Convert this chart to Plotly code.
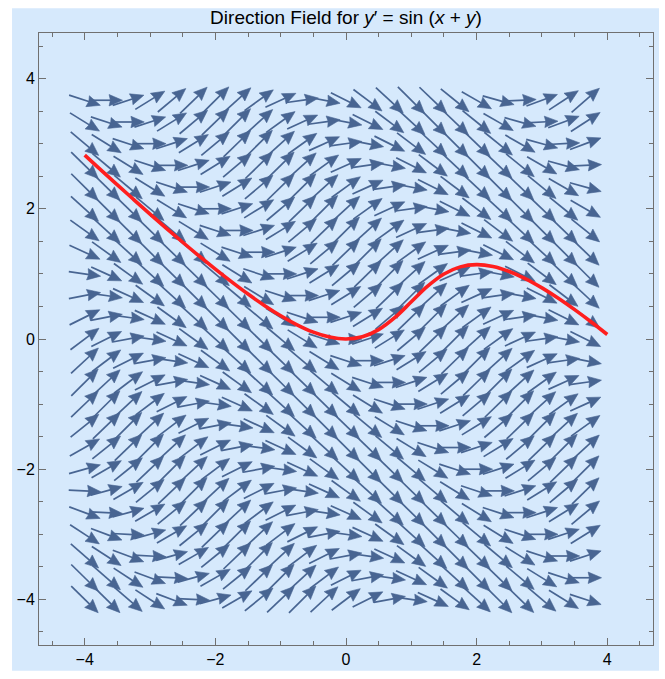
import math
import plotly.graph_objects as go

# ---- data ----
x_grid = [-4.0, -3.667, -3.333, -3.0, -2.667, -2.333, -2.0, -1.667, -1.333, -1.0, -0.667, -0.333,
          0.0, 0.333, 0.667, 1.0, 1.333, 1.667, 2.0, 2.333, 2.667, 3.0, 3.333, 3.667]
y_grid = [-4.0, -3.667, -3.333, -3.0, -2.667, -2.333, -2.0, -1.667, -1.333, -1.0, -0.667, -0.333,
          0.0, 0.333, 0.667, 1.0, 1.333, 1.667, 2.0, 2.333, 2.667, 3.0, 3.333, 3.667]
# slope of the field, indexed by the diagonal x+y = -8, -7.667, ..., 7.333
diag_slope = [-0.989, -0.983, -0.867, -0.657, -0.374, -0.050, 0.279, 0.578, 0.813, 0.959,
              0.999, 0.929, 0.757, 0.501, 0.190, -0.141, -0.457, -0.723, -0.909, -0.995,
              -0.972, -0.841, -0.619, -0.327, 0.0, 0.327, 0.619, 0.841, 0.972, 0.995,
              0.909, 0.723, 0.457, 0.141, -0.190, -0.501, -0.757, -0.929, -0.999, -0.959,
              -0.813, -0.578, -0.279, 0.050, 0.374, 0.657, 0.867]

curve_x = [-4.0, -3.75, -3.5, -3.25, -3.0, -2.75, -2.5, -2.25, -2.0, -1.75, -1.5, -1.25, -1.0,
           -0.75, -0.5, -0.25, 0.0, 0.25, 0.5, 0.75, 1.0, 1.25, 1.5, 1.75, 2.0, 2.25, 2.5,
           2.75, 3.0, 3.25, 3.5, 3.75, 4.0]
curve_y = [2.824, 2.594, 2.367, 2.142, 1.919, 1.700, 1.486, 1.276, 1.073, 0.877, 0.690, 0.516,
           0.357, 0.218, 0.105, 0.029, 0.0, 0.034, 0.144, 0.331, 0.571, 0.811, 0.998, 1.108,
           1.142, 1.113, 1.036, 0.924, 0.785, 0.626, 0.451, 0.265, 0.069]

x_ticks = [-4, -2, 0, 2, 4]
y_ticks = [-4, -2, 0, 2, 4]

# ---- style ----
BG = "#d6e9fc"
ARROW = "rgb(72,101,146)"
FRAME = "#707070"
L0 = 0.49       # base arrow length (data units)
HEAD_L = 0.205
HEAD_W = 0.088

shaft_x, shaft_y, head_x, head_y = [], [], [], []
for xc in x_grid:
    for yc in y_grid:
        m = int(round((xc + yc + 8.0) * 3))
        s = diag_slope[m]
        mag = math.hypot(1.0, s)
        dx, dy = 1.0 / mag, s / mag
        L = L0 * math.sqrt(mag)
        tx, ty = xc - dx * L / 2, yc - dy * L / 2
        px, py = xc + dx * L / 2, yc + dy * L / 2
        bx, by = px - dx * HEAD_L, py - dy * HEAD_L
        nx, ny = -dy, dx
        shaft_x += [tx, bx + dx * 0.03, None]
        shaft_y += [ty, by + dy * 0.03, None]
        head_x += [px, bx + nx * HEAD_W, bx + dx * 0.02, bx - nx * HEAD_W, px, None]
        head_y += [py, by + ny * HEAD_W, by + dy * 0.02, by - ny * HEAD_W, py, None]

fig = go.Figure()
fig.add_trace(go.Scatter(x=shaft_x, y=shaft_y, mode="lines",
                         line=dict(color=ARROW, width=1.7), hoverinfo="skip", showlegend=False))
fig.add_trace(go.Scatter(x=head_x, y=head_y, mode="lines", fill="toself", fillcolor=ARROW,
                         line=dict(color=ARROW, width=0.6), hoverinfo="skip", showlegend=False))
fig.add_trace(go.Scatter(x=curve_x, y=curve_y, mode="lines",
                         line=dict(color="rgb(255,30,30)", width=3.6, shape="spline"),
                         hoverinfo="skip", showlegend=False))

axis_common = dict(
    showgrid=False, zeroline=False, showline=True, linecolor=FRAME, linewidth=1,
    mirror="allticks", ticks="inside", ticklen=7, tickwidth=1, tickcolor=FRAME,
    tickfont=dict(family="Liberation Sans, Arial, sans-serif", size=16, color="black"),
    minor=dict(ticks="inside", dtick=0.5, ticklen=4, tickwidth=1, tickcolor=FRAME, showgrid=False),
)
fig.update_xaxes(range=[-4.70, 4.70], tickvals=x_ticks, **axis_common)
fig.update_yaxes(range=[-4.70, 4.70], tickvals=y_ticks, **axis_common)

fig.add_shape(type="rect", xref="paper", yref="paper", x0=-0.0439, x1=1.0098, y0=-0.0422, y1=1.0406,
              fillcolor=BG, line=dict(width=0), layer="below")

fig.update_layout(
    width=665, height=679,
    margin=dict(l=39, r=11, t=33, b=30),
    paper_bgcolor="white", plot_bgcolor=BG,
    title=dict(text="Direction Field for <i>y</i>′ = sin (<i>x</i> + <i>y</i>)",
               x=0.5, xref="paper", xanchor="center", y=1 - 17 / 679, yref="container",
               yanchor="middle", font=dict(family="Liberation Sans, Arial, sans-serif", size=19, color="black")),
)

fig.write_html("out.html")
